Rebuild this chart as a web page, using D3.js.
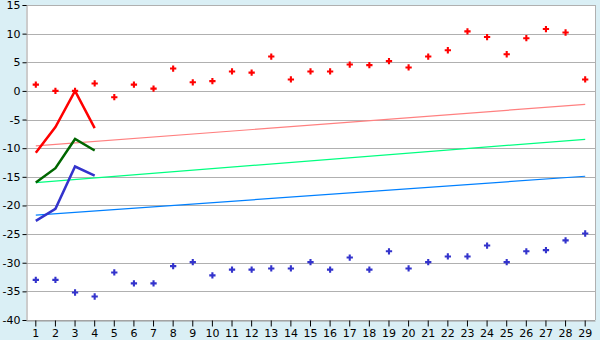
<html>
<meta charset="UTF-8">
<head>
    <title>chart</title>
    <style>
        body { margin: 0; background: #daeff5; }
        text { font-family: "DejaVu Sans", Verdana, sans-serif; font-size: 11px; fill: #000; }
    </style>
</head>
<body>
<script src="https://d3js.org/d3.v7.min.js"></script>
<script>
    // categories 1..29
    let categories = ["1","2","3","4","5","6","7","8","9","10","11","12","13","14","15",
                      "16","17","18","19","20","21","22","23","24","25","26","27","28","29"]
    let yTicks = [15, 10, 5, 0, -5, -10, -15, -20, -25, -30, -35, -40]

    // scatter series
    let redPoints = [1.1, 0, 0, 1.3, -1.1, 1.1, 0.4, 3.9, 1.5, 1.7, 3.4, 3.2, 6.0, 2.0, 3.4,
                     3.4, 4.6, 4.5, 5.2, 4.1, 6.0, 7.1, 10.4, 9.4, 6.4, 9.2, 10.8, 10.2, 2.0]
    let bluePoints = [-33, -33, -35.2, -35.9, -31.7, -33.6, -33.6, -30.6, -29.9, -32.2, -31.2, -31.2, -31.0, -31.0, -29.9,
                      -31.2, -29.1, -31.2, -28.0, -31.0, -29.9, -28.9, -28.9, -27.0, -29.9, -28.0, -27.8, -26.1, -24.9]

    // short lines over the first four categories
    let redLine = [-10.8, -6.3, 0, -6.5]
    let greenLine = [-16.0, -13.5, -8.4, -10.4]
    let blueLine = [-22.7, -20.6, -13.2, -14.8]

    // trend lines: value at category 1 and at category 29
    let redTrend = [-9.6, -2.35]
    let greenTrend = [-16.0, -8.45]
    let blueTrend = [-21.7, -14.9]

    let W = 600, H = 340
    let m = {left: 26, right: 595, top: 5, bottom: 320}

    let svg = d3.select("body").append("svg")
        .attr("width", W).attr("height", H)

    let x = d3.scaleBand().domain(categories).range([m.left, m.right])
    let cx = d => x(d) + x.bandwidth() / 2
    let y = d3.scaleLinear().domain([-40, 15]).range([m.bottom, m.top])

    svg.append("rect")
        .attr("x", m.left).attr("y", m.top)
        .attr("width", m.right - m.left).attr("height", m.bottom - m.top)
        .attr("fill", "#fff")

    // grid
    svg.append("g").selectAll("line")
        .data(yTicks).enter().append("line")
        .attr("x1", m.left).attr("x2", m.right)
        .attr("y1", d => Math.round(y(d)) + 0.5).attr("y2", d => Math.round(y(d)) + 0.5)
        .attr("stroke", "#b0b0b0")
    svg.append("line")
        .attr("x1", m.right + 0.5).attr("x2", m.right + 0.5)
        .attr("y1", m.top).attr("y2", m.bottom)
        .attr("stroke", "#b0b0b0")

    // axes
    let yAxis = svg.append("g")
        .attr("transform", "translate(" + (m.left + 0.5) + ",0)")
        .call(d3.axisLeft(y).tickValues(yTicks).tickSize(4).tickPadding(2).tickFormat(d => d < 0 ? "-" + Math.abs(d) : d))
    yAxis.select(".domain").attr("stroke", "#999")
    yAxis.selectAll(".tick line").attr("stroke", "#000")
    yAxis.selectAll(".tick text").attr("font-size", 11).attr("font-family", "DejaVu Sans")

    let xAxis = svg.append("g")
        .attr("transform", "translate(0," + (m.bottom + 0.5) + ")")
        .call(d3.axisBottom(x).tickSize(6).tickPadding(3).tickSizeOuter(0))
    xAxis.select(".domain").attr("stroke", "#999")
    xAxis.selectAll(".tick line").attr("stroke", "#000")
    xAxis.selectAll(".tick text").attr("font-size", 11).attr("font-family", "DejaVu Sans")

    // trend lines
    let trends = [[redTrend, "#ff8080"], [greenTrend, "#00ff80"], [blueTrend, "#0080ff"]]
    trends.forEach(t => {
        svg.append("line")
            .attr("x1", cx(categories[0])).attr("x2", cx(categories[categories.length - 1]))
            .attr("y1", y(t[0][0])).attr("y2", y(t[0][1]))
            .attr("stroke", t[1]).attr("stroke-width", 1.2)
    })

    // short lines
    let line = d3.line().x((d, i) => cx(categories[i])).y(d => y(d))
    let lines = [[redLine, "#ff0000"], [greenLine, "#006600"], [blueLine, "#3333cc"]]
    lines.forEach(l => {
        svg.append("path")
            .attr("d", line(l[0]))
            .attr("fill", "none")
            .attr("stroke", l[1]).attr("stroke-width", 2.5)
    })

    // markers
    let cross = d3.symbol().type(d3.symbolCross).size(22)
    let pts = [[redPoints, "#ff0000"], [bluePoints, "#3333cc"]]
    pts.forEach(p => {
        svg.append("g").selectAll("path")
            .data(p[0]).enter().append("path")
            .attr("d", cross)
            .attr("transform", (d, i) => "translate(" + cx(categories[i]) + "," + y(d) + ")")
            .attr("fill", p[1])
    })
</script>
</body>
</html>
